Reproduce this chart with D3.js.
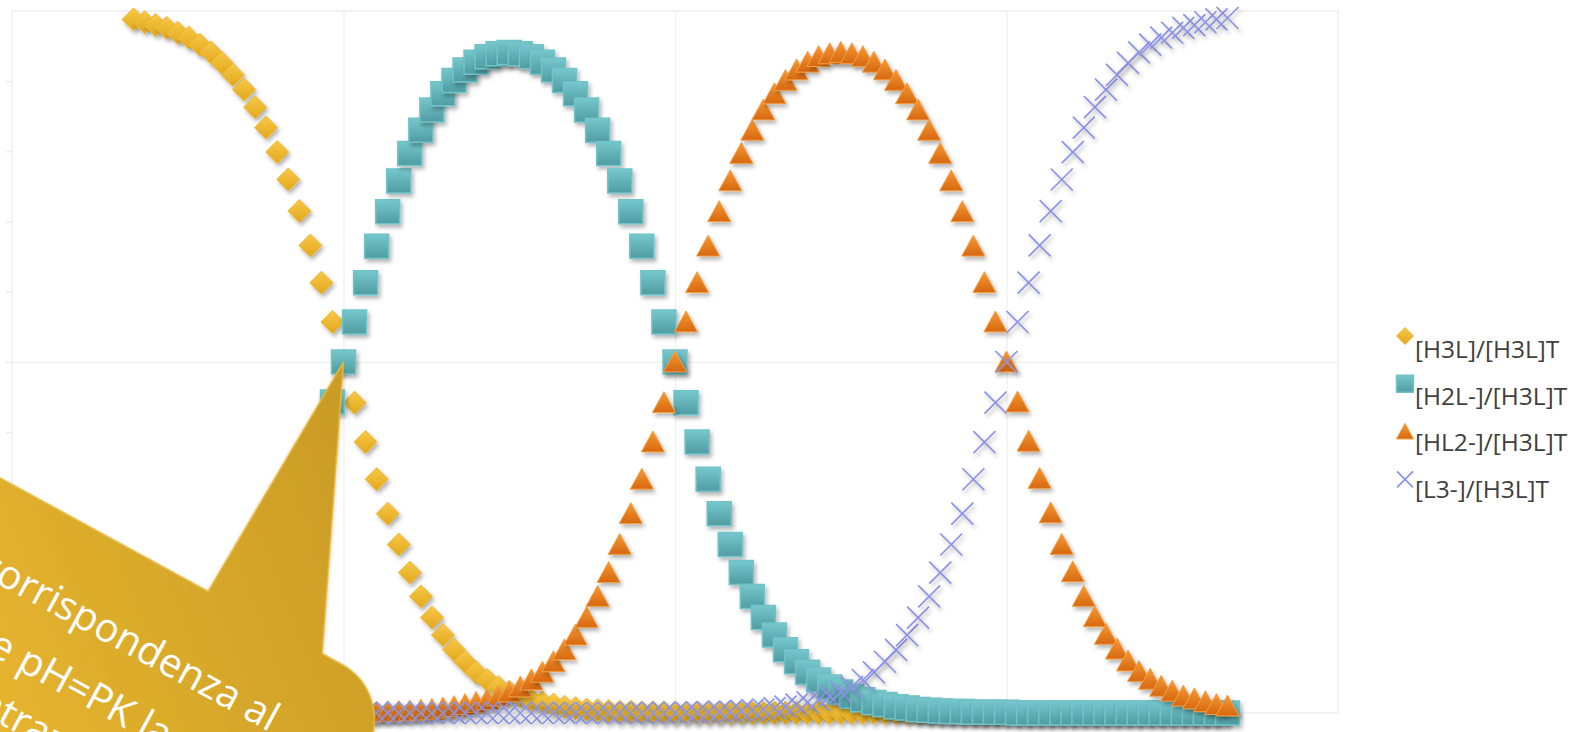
<!DOCTYPE html>
<html>
<head>
<meta charset="utf-8">
<script src="https://cdn.jsdelivr.net/npm/d3@7"></script>
<style>
    body { margin: 0; background: #ffffff; }
    svg { display: block; font-family: "Open Sans", sans-serif; }
</style>
</head>
<body>
<svg id="chart" width="1587" height="732"></svg>
<script>
// pH values (x) and the four distribution fractions
var phValues = [
    1.1, 1.2, 1.3, 1.4, 1.5, 1.6, 1.7, 1.8, 1.9,
    2.0, 2.1, 2.2, 2.3, 2.4, 2.5, 2.6, 2.7, 2.8, 2.9,
    3.0, 3.1, 3.2, 3.3, 3.4, 3.5, 3.6, 3.7, 3.8, 3.9,
    4.0, 4.1, 4.2, 4.3, 4.4, 4.5, 4.6, 4.7, 4.8, 4.9,
    5.0, 5.1, 5.2, 5.3, 5.4, 5.5, 5.6, 5.7, 5.8, 5.9,
    6.0, 6.1, 6.2, 6.3, 6.4, 6.5, 6.6, 6.7, 6.8, 6.9,
    7.0, 7.1, 7.2, 7.3, 7.4, 7.5, 7.6, 7.7, 7.8, 7.9,
    8.0, 8.1, 8.2, 8.3, 8.4, 8.5, 8.6, 8.7, 8.8, 8.9,
    9.0, 9.1, 9.2, 9.3, 9.4, 9.5, 9.6, 9.7, 9.8, 9.9,
    10.0, 10.1, 10.2, 10.3, 10.4, 10.5, 10.6, 10.7, 10.8, 10.9,
    11.0
];

var h3l = [
    0.988, 0.984, 0.980, 0.976, 0.969, 0.962, 0.952, 0.941, 0.926,
    0.909, 0.888, 0.863, 0.834, 0.799, 0.760, 0.715, 0.666, 0.613, 0.557,
    0.500, 0.442, 0.386, 0.333, 0.284, 0.240, 0.200, 0.166, 0.136, 0.111,
    0.090, 0.073, 0.058, 0.047, 0.037, 0.030, 0.024, 0.019, 0.015, 0.012,
    0.009, 0.007, 0.005, 0.004, 0.003, 0.002, 0.002, 0.001, 0.001, 0.001,
    0, 0, 0, 0, 0, 0, 0, 0, 0, 0,
    0, 0, 0, 0, 0, 0, 0, 0, 0, 0,
    0, 0, 0, 0, 0, 0, 0, 0, 0, 0,
    0, 0, 0, 0, 0, 0, 0, 0, 0, 0,
    0, 0, 0, 0, 0, 0, 0, 0, 0, 0,
    0
];

var h2l = [
    0.012, 0.016, 0.020, 0.024, 0.031, 0.038, 0.048, 0.059, 0.074,
    0.091, 0.112, 0.137, 0.166, 0.201, 0.240, 0.285, 0.334, 0.387, 0.443,
    0.500, 0.557, 0.613, 0.665, 0.714, 0.758, 0.797, 0.830, 0.859, 0.882,
    0.901, 0.916, 0.927, 0.935, 0.939, 0.941, 0.939, 0.935, 0.927, 0.916,
    0.901, 0.882, 0.859, 0.830, 0.797, 0.758, 0.714, 0.665, 0.613, 0.557,
    0.500, 0.442, 0.386, 0.333, 0.284, 0.240, 0.200, 0.166, 0.136, 0.111,
    0.090, 0.073, 0.058, 0.047, 0.037, 0.030, 0.024, 0.019, 0.015, 0.012,
    0.009, 0.007, 0.005, 0.004, 0.003, 0.002, 0.002, 0.001, 0.001, 0.001,
    0.001, 0, 0, 0, 0, 0, 0, 0, 0, 0,
    0, 0, 0, 0, 0, 0, 0, 0, 0, 0,
    0
];

var hl2 = [
    0, 0, 0, 0, 0, 0, 0, 0, 0,
    0, 0, 0, 0, 0, 0, 0, 0, 0, 0,
    0.001, 0.001, 0.001, 0.001, 0.002, 0.002, 0.003, 0.004, 0.005, 0.007,
    0.009, 0.012, 0.015, 0.019, 0.024, 0.030, 0.037, 0.047, 0.058, 0.073,
    0.090, 0.111, 0.136, 0.166, 0.200, 0.240, 0.284, 0.333, 0.386, 0.442,
    0.500, 0.557, 0.613, 0.665, 0.714, 0.758, 0.797, 0.830, 0.859, 0.882,
    0.901, 0.916, 0.927, 0.935, 0.939, 0.941, 0.939, 0.935, 0.927, 0.916,
    0.901, 0.882, 0.859, 0.830, 0.797, 0.758, 0.714, 0.665, 0.613, 0.557,
    0.500, 0.443, 0.387, 0.334, 0.285, 0.240, 0.201, 0.166, 0.137, 0.112,
    0.091, 0.074, 0.059, 0.048, 0.038, 0.031, 0.024, 0.020, 0.016, 0.012,
    0.010
];

var l3 = [
    0, 0, 0, 0, 0, 0, 0, 0, 0,
    0, 0, 0, 0, 0, 0, 0, 0, 0, 0,
    0, 0, 0, 0, 0, 0, 0, 0, 0, 0,
    0, 0, 0, 0, 0, 0, 0, 0, 0, 0,
    0, 0, 0, 0, 0, 0, 0, 0, 0, 0,
    0, 0.001, 0.001, 0.001, 0.002, 0.002, 0.003, 0.004, 0.005, 0.007,
    0.009, 0.012, 0.015, 0.019, 0.024, 0.030, 0.037, 0.047, 0.058, 0.073,
    0.090, 0.111, 0.136, 0.166, 0.200, 0.240, 0.284, 0.333, 0.386, 0.442,
    0.500, 0.557, 0.613, 0.666, 0.715, 0.760, 0.799, 0.834, 0.863, 0.888,
    0.909, 0.926, 0.941, 0.952, 0.962, 0.969, 0.976, 0.980, 0.984, 0.988,
    0.990
];

var seriesNames = ['[H3L]/[H3L]T', '[H2L-]/[H3L]T', '[HL2-]/[H3L]T', '[L3-]/[H3L]T'];
var xGridValues = [3, 6, 9];
var yGridValues = [0.5];
var yMinorTicks = [0.1, 0.2, 0.3, 0.4, 0.5, 0.6, 0.7, 0.8, 0.9];
var calloutLines = ['In corrispondenza al', 'valore pH=PK la', 'concentrazione'];

var svg = d3.select('#chart');
var plot = { left: 12, top: 11, right: 1338, bottom: 713 };

var x = d3.scaleLinear().domain([0, 12]).range([plot.left, plot.right]);
var y = d3.scaleLinear().domain([0, 1]).range([plot.bottom, plot.top]);

var defs = svg.append('defs');

function vGradient(id, top, bottom) {
    var g = defs.append('linearGradient')
        .attr('id', id)
        .attr('x1', 0).attr('y1', 0)
        .attr('x2', 0).attr('y2', 1);
    g.append('stop').attr('offset', '0%').attr('stop-color', top);
    g.append('stop').attr('offset', '100%').attr('stop-color', bottom);
}
vGradient('gradGold', '#F8C948', '#E2A71C');
vGradient('gradAqua', '#76C8CD', '#4F9CA2');
vGradient('gradOrange', '#F59A36', '#D7670F');

var shadow = defs.append('filter')
    .attr('id', 'shadow')
    .attr('x', '-60%').attr('y', '-60%')
    .attr('width', '220%').attr('height', '220%');
shadow.append('feDropShadow')
    .attr('dx', 2).attr('dy', 3)
    .attr('stdDeviation', 2.2)
    .attr('flood-color', '#000')
    .attr('flood-opacity', 0.3);

var bubbleShadow = defs.append('filter')
    .attr('id', 'bubbleShadow')
    .attr('x', '-20%').attr('y', '-20%')
    .attr('width', '140%').attr('height', '140%');
bubbleShadow.append('feDropShadow')
    .attr('dx', 1).attr('dy', 2)
    .attr('stdDeviation', 2)
    .attr('flood-color', '#000')
    .attr('flood-opacity', 0.2);

var bubbleGrad = defs.append('linearGradient')
    .attr('id', 'gradBubble')
    .attr('gradientUnits', 'userSpaceOnUse')
    .attr('x1', 330).attr('y1', -200)
    .attr('x2', -60).attr('y2', 260);
bubbleGrad.append('stop').attr('offset', '0%').attr('stop-color', '#C99B24');
bubbleGrad.append('stop').attr('offset', '55%').attr('stop-color', '#DDAD2C');
bubbleGrad.append('stop').attr('offset', '100%').attr('stop-color', '#F3BC31');

// plot area frame and grid
svg.append('rect')
    .attr('x', plot.left)
    .attr('y', plot.top)
    .attr('width', plot.right - plot.left)
    .attr('height', plot.bottom - plot.top)
    .attr('fill', 'none')
    .attr('stroke', '#EFEFEF')
    .attr('stroke-width', 1.5);

svg.append('g')
    .attr('class', 'x-grid')
    .attr('transform', 'translate(0,' + plot.bottom + ')')
    .call(d3.axisBottom(x).tickValues(xGridValues).tickSize(-(plot.bottom - plot.top)).tickFormat(''))
    .call(function(g) {
        g.select('.domain').remove();
        g.selectAll('line').attr('stroke', '#EFEFEF').attr('stroke-width', 1.2);
    });

svg.append('g')
    .attr('class', 'y-grid')
    .attr('transform', 'translate(' + plot.left + ',0)')
    .call(d3.axisLeft(y).tickValues(yGridValues).tickSize(-(plot.right - plot.left)).tickFormat(''))
    .call(function(g) {
        g.select('.domain').remove();
        g.selectAll('line').attr('stroke', '#EFEFEF').attr('stroke-width', 1.2);
    });

svg.append('g')
    .attr('class', 'y-ticks')
    .attr('transform', 'translate(' + plot.left + ',0)')
    .call(d3.axisLeft(y).tickValues(yMinorTicks).tickSize(6).tickFormat(''))
    .call(function(g) {
        g.select('.domain').remove();
        g.selectAll('line').attr('stroke', '#EAEAEA').attr('stroke-width', 1.2);
    });

// marker shapes
function diamondPath(r) {
    return 'M0,' + (-r) + 'L' + r + ',0L0,' + r + 'L' + (-r) + ',0Z';
}
function squarePath(r) {
    return 'M' + (-r) + ',' + (-r) + 'H' + r + 'V' + r + 'H' + (-r) + 'Z';
}
function trianglePath(r) {
    return 'M0,' + (-r) + 'L' + (r * 1.05) + ',' + (r * 0.9) + 'L' + (-r * 1.05) + ',' + (r * 0.9) + 'Z';
}
function crossPath(r) {
    return 'M' + (-r) + ',' + (-r) + 'L' + r + ',' + r + 'M' + (-r) + ',' + r + 'L' + r + ',' + (-r);
}

var seriesList = [
    { name: seriesNames[0], values: h3l, path: diamondPath(11.5), legendPath: diamondPath(8.5), fill: 'url(#gradGold)', stroke: '#EDB733', width: 1 },
    { name: seriesNames[1], values: h2l, path: squarePath(12), legendPath: squarePath(8.5), fill: 'url(#gradAqua)', stroke: '#70C3C8', width: 1.5 },
    { name: seriesNames[2], values: hl2, path: trianglePath(11), legendPath: trianglePath(8.2), fill: 'url(#gradOrange)', stroke: '#F3A045', width: 1 },
    { name: seriesNames[3], values: l3, path: crossPath(11), legendPath: crossPath(8), fill: 'none', stroke: '#8C93E6', width: 1.7 }
];

seriesList.forEach(function(s, i) {
    var pts = phValues.map(function(ph, k) { return { x: ph, y: s.values[k] }; });

    svg.append('g')
        .attr('class', 'series series-' + i)
        .selectAll('path')
        .data(pts)
        .enter().append('path')
        .attr('transform', function(d) { return 'translate(' + x(d.x) + ',' + y(d.y) + ')'; })
        .attr('d', s.path)
        .attr('fill', s.fill)
        .attr('stroke', s.stroke)
        .attr('stroke-width', s.width)
        .attr('filter', 'url(#shadow)');
});

// legend
var legend = svg.append('g').attr('class', 'legend');
seriesList.forEach(function(s, i) {
    legend.append('path')
        .attr('transform', 'translate(1405,' + (336 + i * 47.8) + ')')
        .attr('d', s.legendPath)
        .attr('fill', s.fill)
        .attr('stroke', s.stroke)
        .attr('stroke-width', s.width);

    legend.append('text')
        .attr('x', 1415)
        .attr('y', 358 + i * 46.6)
        .attr('font-size', '24.5px')
        .style('fill', '#404040')
        .text(s.name);
});

// callout bubble pointing at the first crossing (pH = pK1)
var tip = { x: x(3), y: y(0.5) };
var angle = 28.6;
var origin = { x: 0, y: 478 };
var rad = angle * Math.PI / 180;
var dx = tip.x - origin.x, dy = tip.y - origin.y;
var tipLocal = {
    x: dx * Math.cos(rad) + dy * Math.sin(rad),
    y: -dx * Math.sin(rad) + dy * Math.cos(rad)
};

var bubble = svg.append('g')
    .attr('class', 'callout')
    .attr('transform', 'translate(' + origin.x + ',' + origin.y + ') rotate(' + angle + ')');

var r = 63, right = 452;
var bubblePath = 'M-500,0' +
    'L237,0' +
    'L' + tipLocal.x + ',' + tipLocal.y +
    'L367,0' +
    'L' + (right - r) + ',0' +
    'A' + r + ',' + r + ' 0 0 1 ' + right + ',' + r +
    'L' + right + ',600' +
    'L-500,600Z';

bubble.append('path')
    .attr('d', bubblePath)
    .attr('fill', 'url(#gradBubble)')
    .attr('stroke', '#E8BA3E')
    .attr('stroke-width', 1.5)
    .attr('filter', 'url(#bubbleShadow)');

var lineBaselines = [94, 160, 216];
bubble.selectAll('text')
    .data(calloutLines)
    .enter().append('text')
    .attr('x', -21)
    .attr('y', function(d, i) { return lineBaselines[i]; })
    .attr('font-size', '40px')
    .style('fill', '#ffffff')
    .text(function(d) { return d; });
</script>
</body>
</html>
